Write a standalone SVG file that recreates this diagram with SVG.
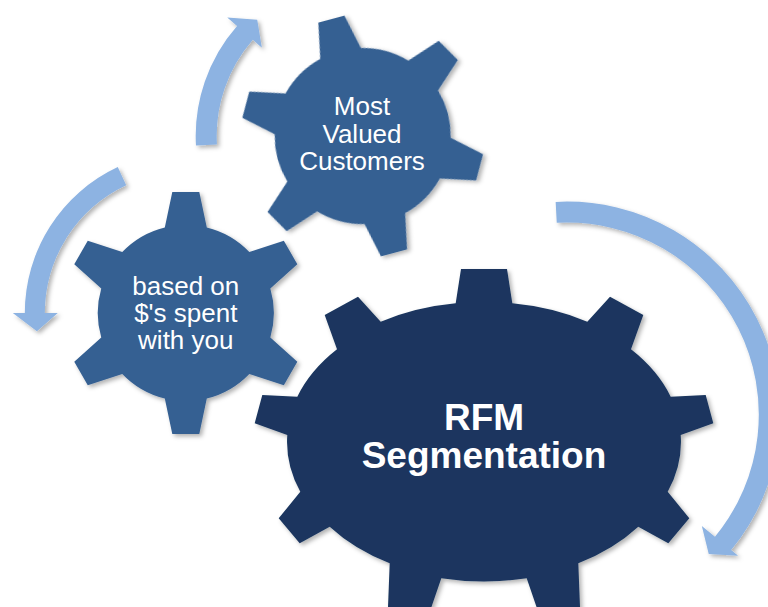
<svg xmlns="http://www.w3.org/2000/svg" width="768" height="607" viewBox="0 0 768 607">
  <style>
    .arrow { fill: #8DB3E2; }
    .gear-mid { fill: #366092; }
    .gear-big { fill: #1A365E; }
    .label { fill: #FFFFFF; font-family: "Liberation Sans", Arial, sans-serif; text-anchor: middle; }
    .label-small { font-size: 26px; }
    .label-big { font-size: 37px; font-weight: bold; }
  </style>
  <defs>
    <filter id="shadow" x="-20%" y="-20%" width="140%" height="140%">
      <feDropShadow dx="2.5" dy="2.5" stdDeviation="2" flood-color="#000000" flood-opacity="0.3"/>
    </filter>
    <!-- six-tooth gear, centred on the origin, top tooth pointing up -->
    <path id="gear6" d="M -21,-85.5 L -13.5,-121 L 13.5,-121 L 21,-85.5
      A 88 88 0 0 1 63.54,-60.94 L 98.04,-72.19 L 111.54,-48.81 L 84.54,-24.56
      A 88 88 0 0 1 84.54,24.56 L 111.54,48.81 L 98.04,72.19 L 63.54,60.94
      A 88 88 0 0 1 21,85.5 L 13.5,121 L -13.5,121 L -21,85.5
      A 88 88 0 0 1 -63.54,60.94 L -98.04,72.19 L -111.54,48.81 L -84.54,24.56
      A 88 88 0 0 1 -84.54,-24.56 L -111.54,-48.81 L -98.04,-72.19 L -63.54,-60.94
      A 88 88 0 0 1 -21,-85.5 Z"/>
  </defs>

  <rect width="768" height="607" fill="#FFFFFF"/>

  <!-- circular arrows around the gears -->
  <g id="connectors" filter="url(#shadow)">
    <path class="arrow" d="M 195.98,145.6 A 167 167 0 0 1 237.05,26.0 L 227.27,17.43 L 257.24,19.69 L 261.88,47.73 L 252.85,39.83 A 146 146 0 0 0 216.94,144.4 Z"/>
    <path class="arrow" d="M 117.76,167.09 A 161 161 0 0 0 24.8,313 L 12.8,313 L 36.92,331.28 L 57.8,313 L 44.8,313 A 141 141 0 0 1 126.21,185.21 Z"/>
    <path class="arrow" d="M 555.65,201.89 A 213 213 0 0 1 731.16,550.09 L 738.10,555.81 L 708.74,554.08 L 701.83,525.91 L 714.95,536.73 A 192 192 0 0 0 556.75,222.86 Z"/>
  </g>

  <!-- large gear -->
  <g id="rfm-segmentation">
    <path class="gear-big" filter="url(#shadow)" d="M 455.7,303.3 L 461,269 L 507,269 L 512.3,303.3
      A 197 138 0 0 1 587.3,321.7 L 610,296.7 L 643.3,315 L 631,349.3
      A 197 138 0 0 1 670.7,396.7 L 705.7,395 L 713.3,423.3 L 680.7,435
      A 197 138 0 0 1 667.7,491.7 L 689.3,518.3 L 668.3,543.3 L 638.3,526.7
      A 197 138 0 0 1 578.3,563.3 L 580.5,620 L 541,620 L 526.7,578.3
      A 197 138 0 0 1 441.3,578.3 L 427,620 L 387.5,620 L 389.7,563.3
      A 197 138 0 0 1 329.7,526.7 L 299.7,543.3 L 278.7,518.3 L 300.3,491.7
      A 197 138 0 0 1 287.3,435 L 254.7,423.3 L 262.3,395 L 297.3,396.7
      A 197 138 0 0 1 337,349.3 L 324.7,315 L 358,296.7 L 380.7,321.7
      A 197 138 0 0 1 455.7,303.3 Z"/>
    <text class="label label-big" x="484" y="430">RFM</text>
    <text class="label label-big" x="484" y="468">Segmentation</text>
  </g>

  <!-- left gear -->
  <g id="dollars-spent">
    <use href="#gear6" class="gear-mid" filter="url(#shadow)" transform="translate(185.8,313)"/>
    <text class="label label-small" x="185.8" y="295">based on</text>
    <text class="label label-small" x="185.8" y="322">$'s spent</text>
    <text class="label label-small" x="185.8" y="349">with you</text>
  </g>

  <!-- upper gear -->
  <g id="most-valued">
    <use href="#gear6" class="gear-mid" filter="url(#shadow)" transform="translate(362.7,136) rotate(-15)"/>
    <text class="label label-small" x="362" y="115">Most</text>
    <text class="label label-small" x="362" y="143">Valued</text>
    <text class="label label-small" x="362" y="170">Customers</text>
  </g>
</svg>
